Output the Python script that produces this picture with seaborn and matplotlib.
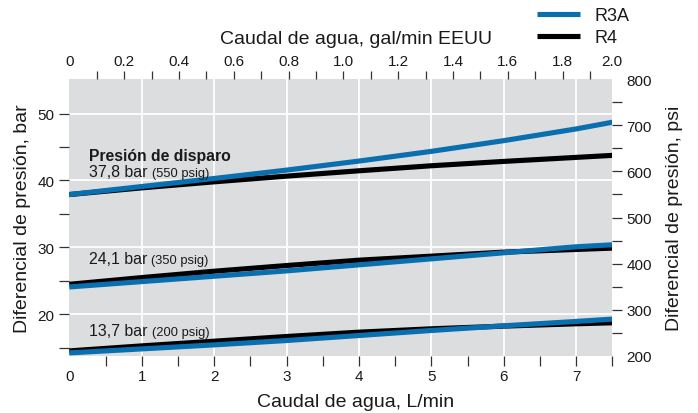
import numpy as np
import matplotlib
matplotlib.use("Agg")
import matplotlib.pyplot as plt
import seaborn as sns

PSI_PER_BAR = 14.5038
L_PER_GAL = 3.78541

# flow in L/min, pressure differential in bar
flow_lpm = [0, 1, 2, 3, 4, 5, 6, 7, 7.5]

r3a_550 = [37.9, 39.1, 40.3, 41.55, 42.9, 44.35, 45.95, 47.7, 48.7]
r4_550 = [37.9, 38.9, 39.8, 40.65, 41.45, 42.2, 42.85, 43.45, 43.75]
r3a_350 = [24.1, 24.9, 25.7, 26.5, 27.4, 28.3, 29.2, 30.1, 30.4]
r4_350 = [24.5, 25.5, 26.45, 27.3, 28.1, 28.7, 29.3, 29.7, 29.9]
r3a_200 = [14.25, 14.85, 15.45, 16.1, 16.85, 17.6, 18.3, 18.95, 19.3]
r4_200 = [14.55, 15.3, 16.0, 16.7, 17.35, 17.85, 18.25, 18.6, 18.75]

models = ["R3A", "R4"]
model_colors = {"R3A": "#0a6fae", "R4": "#000000"}

set_bar = ["37,8 bar", "24,1 bar", "13,7 bar"]
set_psig = ["(550 psig)", "(350 psig)", "(200 psig)"]
title_text = "Presión de disparo"

bar_major = [20, 30, 40, 50]
bar_minor = [15, 20, 25, 30, 35, 40, 45, 50]
psi_major = [200, 300, 400, 500, 600, 700, 800]
psi_minor = [250, 300, 350, 400, 450, 500, 550, 600, 650, 700, 750]
lpm_major = [0, 1, 2, 3, 4, 5, 6, 7]
lpm_minor = [0.5, 1, 1.5, 2, 2.5, 3, 3.5, 4, 4.5, 5, 5.5, 6, 6.5, 7, 7.5]
gal_major = [0, 0.2, 0.4, 0.6, 0.8, 1.0, 1.2, 1.4, 1.6, 1.8, 2.0]
gal_labels = ["0", "0.2", "0.4", "0.6", "0.8", "1.0", "1.2", "1.4", "1.6", "1.8", "2.0"]
gal_minor = [round(0.1 * i, 1) for i in range(1, 20)]

sns.set_theme(style="darkgrid", rc={
    "axes.facecolor": "#dcdddf",
    "grid.color": "white",
    "grid.linewidth": 1.3,
})
plt.rcParams["font.family"] = ["Liberation Sans", "DejaVu Sans"]
txt = "#1a1a1a"

fig = plt.figure(figsize=(6.98, 4.14), dpi=100, facecolor="white")
ax = fig.add_axes([69.3 / 698, 57 / 414, 543 / 698, 277 / 414])

series = [("R4", r4_550), ("R4", r4_350), ("R4", r4_200),
          ("R3A", r3a_550), ("R3A", r3a_350), ("R3A", r3a_200)]
for model, vals in series:
    sns.lineplot(x=flow_lpm, y=vals, ax=ax, color=model_colors[model],
                 linewidth=3.7, label=model, solid_capstyle="butt")

ax.set_xlim(0, 7.5)
ax.set_ylim(200 / PSI_PER_BAR, 800 / PSI_PER_BAR)
for s in ax.spines.values():
    s.set_visible(False)

ax.set_xticks(lpm_major)
ax.set_xticks(lpm_minor, minor=True)
ax.set_yticks(bar_major)
ax.set_yticks(bar_minor, minor=True)
ax.xaxis.remove_overlapping_locs = False
ax.yaxis.remove_overlapping_locs = False
ax.tick_params(which="major", length=0, labelsize=11, labelcolor=txt)
ax.tick_params(axis="x", which="major", pad=9.5)
ax.tick_params(axis="y", which="major", pad=10.5)
ax.tick_params(which="minor", length=7.2, width=0.9, color="#333333",
               direction="out", bottom=True, left=True)
ax.grid(which="minor", visible=False)
ax.grid(which="major", color="white", linewidth=1.3)
ax.xaxis.get_major_ticks()[0].gridline.set_visible(False)

ax.set_xlabel("Caudal de agua, L/min", fontsize=14, color=txt, labelpad=7)
ax.xaxis.label.set_x(0.528)
ax.set_ylabel("Diferencial de presión, bar", fontsize=14, color=txt, labelpad=5)

# top axis in US gal/min
top = ax.secondary_xaxis("top", functions=(lambda x: x / L_PER_GAL, lambda g: g * L_PER_GAL))
gal_max = 7.5 / L_PER_GAL
top.set_xticks(list(np.minimum(gal_major, gal_max)), labels=gal_labels)
top.set_xticks(gal_minor, minor=True)
top.xaxis.remove_overlapping_locs = False
top.tick_params(which="major", length=0, pad=8, labelsize=11, labelcolor=txt)
top.tick_params(which="minor", length=5.8, width=0.9, color="#333333",
                direction="out", top=True)
top.set_xlabel("Caudal de agua, gal/min EEUU", fontsize=14, color=txt, labelpad=8)
top.xaxis.label.set_x(0.528)
for s in top.spines.values():
    s.set_visible(False)

# right axis in psi
right = ax.secondary_yaxis("right", functions=(lambda b: b * PSI_PER_BAR, lambda p: p / PSI_PER_BAR))
right.set_yticks(psi_major)
right.set_yticks(psi_minor, minor=True)
right.yaxis.remove_overlapping_locs = False
right.tick_params(which="major", length=0, pad=10, labelsize=11, labelcolor=txt)
right.tick_params(which="minor", length=7.2, width=0.9, color="#333333",
                  direction="out", right=True)
right.set_ylabel("Diferencial de presión, psi", fontsize=14, color=txt, labelpad=10)
for s in right.spines.values():
    s.set_visible(False)

# set-point annotations
ax.text(0.27, 43.06, title_text, fontsize=11.3, fontweight="bold", color=txt, va="baseline")
for lab, psig, yb in zip(set_bar, set_psig, [40.72, 27.68, 16.92]):
    t = ax.text(0.27, yb, lab, fontsize=11.4, color=txt, va="baseline")
    ax.annotate(psig, xy=(1, 0), xycoords=t, xytext=(3, 0), textcoords="offset points",
                fontsize=9.3, color=txt, va="bottom")

handles, labels = ax.get_legend_handles_labels()
uniq = dict(zip(labels, handles))
ax.get_legend().remove()
fig.legend([uniq[m] for m in models], models, loc="upper left",
           bbox_to_anchor=(537 / 698, 1 - 8 / 414), frameon=False, fontsize=13,
           handlelength=2.4, handletextpad=0.8, labelspacing=0.3,
           borderpad=0, borderaxespad=0, labelcolor=txt)

fig.savefig("out.png", dpi=100, facecolor="white")
